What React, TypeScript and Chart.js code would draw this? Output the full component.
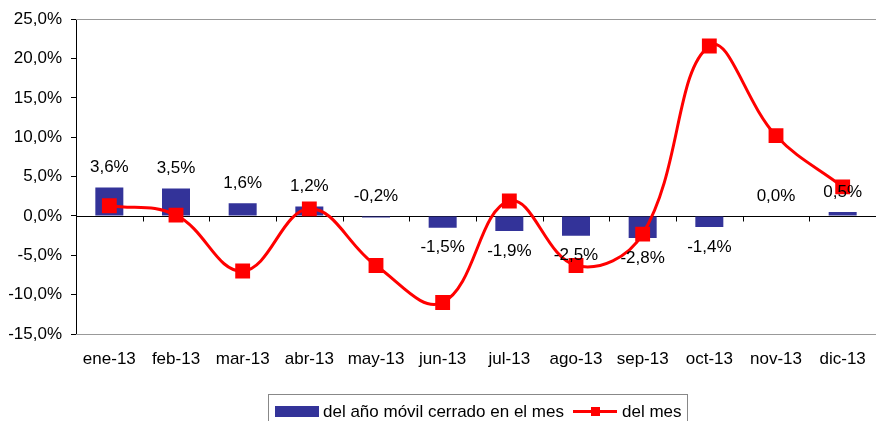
import React, { useEffect, useRef } from 'react';
import { Chart, registerables } from 'chart.js';
Chart.register(...registerables);

const categories = ['ene-13', 'feb-13', 'mar-13', 'abr-13', 'may-13', 'jun-13', 'jul-13', 'ago-13', 'sep-13', 'oct-13', 'nov-13', 'dic-13'];
const annualValues = [3.6, 3.5, 1.6, 1.2, -0.2, -1.5, -1.9, -2.5, -2.8, -1.4, 0.0, 0.5];
const monthlyValues = [1.3, 0.1, -7.0, 0.9, -6.3, -11.0, 1.9, -6.3, -2.3, 21.6, 10.2, 3.7];
const annualLabel = 'del año móvil cerrado en el mes';
const monthlyLabel = 'del mes';
const yMin = -15;
const yMax = 25;
const yStep = 5;

const FONT = '"Liberation Sans", Arial, sans-serif';
const FS = 17;
const NAVY = '#333399';
const RED = '#FF0000';

const fmt = (v: number) => v.toFixed(1).replace('.', ',') + '%';

const decorPlugin = {
  id: 'decor',
  beforeDatasetsDraw(chart: any) {
    const { ctx, chartArea } = chart;
    const y = chart.scales.y;
    ctx.save();
    ctx.lineWidth = 1;
    ctx.strokeStyle = '#999999';
    ctx.beginPath();
    ctx.moveTo(chartArea.left, Math.round(chartArea.top) + 0.5);
    ctx.lineTo(chartArea.right, Math.round(chartArea.top) + 0.5);
    ctx.moveTo(chartArea.left, Math.round(chartArea.bottom) + 0.5);
    ctx.lineTo(chartArea.right, Math.round(chartArea.bottom) + 0.5);
    ctx.stroke();
    const y0 = Math.round(y.getPixelForValue(0)) + 0.5;
    ctx.strokeStyle = '#000000';
    ctx.beginPath();
    ctx.moveTo(chartArea.left, y0);
    ctx.lineTo(chartArea.right, y0);
    const n = categories.length;
    const w = (chartArea.right - chartArea.left) / n;
    for (let k = 1; k < n; k++) {
      const px = Math.round(chartArea.left + k * w) + 0.5;
      ctx.moveTo(px, y0);
      ctx.lineTo(px, y0 + 5);
    }
    ctx.stroke();
    ctx.restore();
  },
  afterDatasetsDraw(chart: any) {
    const { ctx } = chart;
    const meta = chart.getDatasetMeta(1);
    ctx.save();
    ctx.font = FS + 'px ' + FONT;
    ctx.fillStyle = '#000000';
    ctx.textAlign = 'center';
    ctx.textBaseline = 'middle';
    meta.data.forEach((el: any, i: number) => {
      const v = annualValues[i];
      const top = Math.min(el.y, el.base);
      const bot = Math.max(el.y, el.base);
      const yy = v > -1 ? top - 20 : bot + 20;
      ctx.fillText(fmt(v), el.x, yy);
    });
    ctx.restore();
  },
  afterDraw(chart: any) {
    const { ctx } = chart;
    ctx.save();
    ctx.strokeStyle = '#888888';
    ctx.lineWidth = 1;
    ctx.strokeRect(268.5, 394.5, 419, 40);
    ctx.fillStyle = NAVY;
    ctx.fillRect(275, 406, 44, 11);
    ctx.font = FS + 'px ' + FONT;
    ctx.fillStyle = '#000000';
    ctx.textAlign = 'left';
    ctx.textBaseline = 'middle';
    ctx.fillText(annualLabel, 323, 412);
    ctx.strokeStyle = RED;
    ctx.lineWidth = 3;
    ctx.beginPath();
    ctx.moveTo(573, 411.5);
    ctx.lineTo(617, 411.5);
    ctx.stroke();
    ctx.fillStyle = RED;
    ctx.fillRect(591, 407, 9, 9);
    ctx.fillStyle = '#000000';
    ctx.fillText(monthlyLabel, 622, 412);
    ctx.restore();
  },
};

export default function App() {
  const ref = useRef<HTMLCanvasElement | null>(null);
  useEffect(() => {
    document.body.style.margin = '0';
    const canvas = ref.current;
    if (!canvas) return;
    const chart = new Chart(canvas, {
      data: {
        labels: categories,
        datasets: [
          {
            type: 'line',
            label: monthlyLabel,
            data: monthlyValues,
            borderColor: RED,
            backgroundColor: RED,
            borderWidth: 3,
            tension: 0.4,
            pointStyle: 'rect',
            pointRadius: 10.5,
            pointBorderWidth: 0,
            pointBackgroundColor: RED,
            order: 0,
          } as any,
          {
            type: 'bar',
            label: annualLabel,
            data: annualValues,
            backgroundColor: NAVY,
            borderWidth: 0,
            barPercentage: 0.42,
            categoryPercentage: 1,
            order: 1,
          } as any,
        ],
      },
      options: {
        responsive: false,
        animation: false,
        layout: { autoPadding: false, padding: { top: 19, right: 0, left: 0, bottom: 0 } },
        plugins: { legend: { display: false }, tooltip: { enabled: false } },
        scales: {
          x: {
            type: 'category',
            offset: true,
            grid: { display: false, drawTicks: false },
            border: { display: false },
            ticks: { color: '#000', font: { family: FONT, size: FS }, padding: 15, maxRotation: 0, autoSkip: false },
            afterFit: (s: any) => { s.height = 87; s.paddingRight = 0; s.paddingLeft = 0; },
          },
          y: {
            min: yMin,
            max: yMax,
            ticks: { stepSize: yStep, color: '#000', font: { family: FONT, size: FS }, padding: 9, callback: (v: any) => fmt(Number(v)) },
            grid: { display: true, drawOnChartArea: false, drawTicks: true, tickLength: 5, color: '#000' },
            border: { display: true, color: '#000', width: 1 },
            afterFit: (s: any) => { s.width = 76; },
          },
        },
      },
      plugins: [decorPlugin],
    } as any);
    return () => chart.destroy();
  }, []);
  return (
    <div style={{ width: 876, height: 421 }}>
      <canvas ref={ref} width={876} height={421} style={{ display: 'block' }} />
    </div>
  );
}
